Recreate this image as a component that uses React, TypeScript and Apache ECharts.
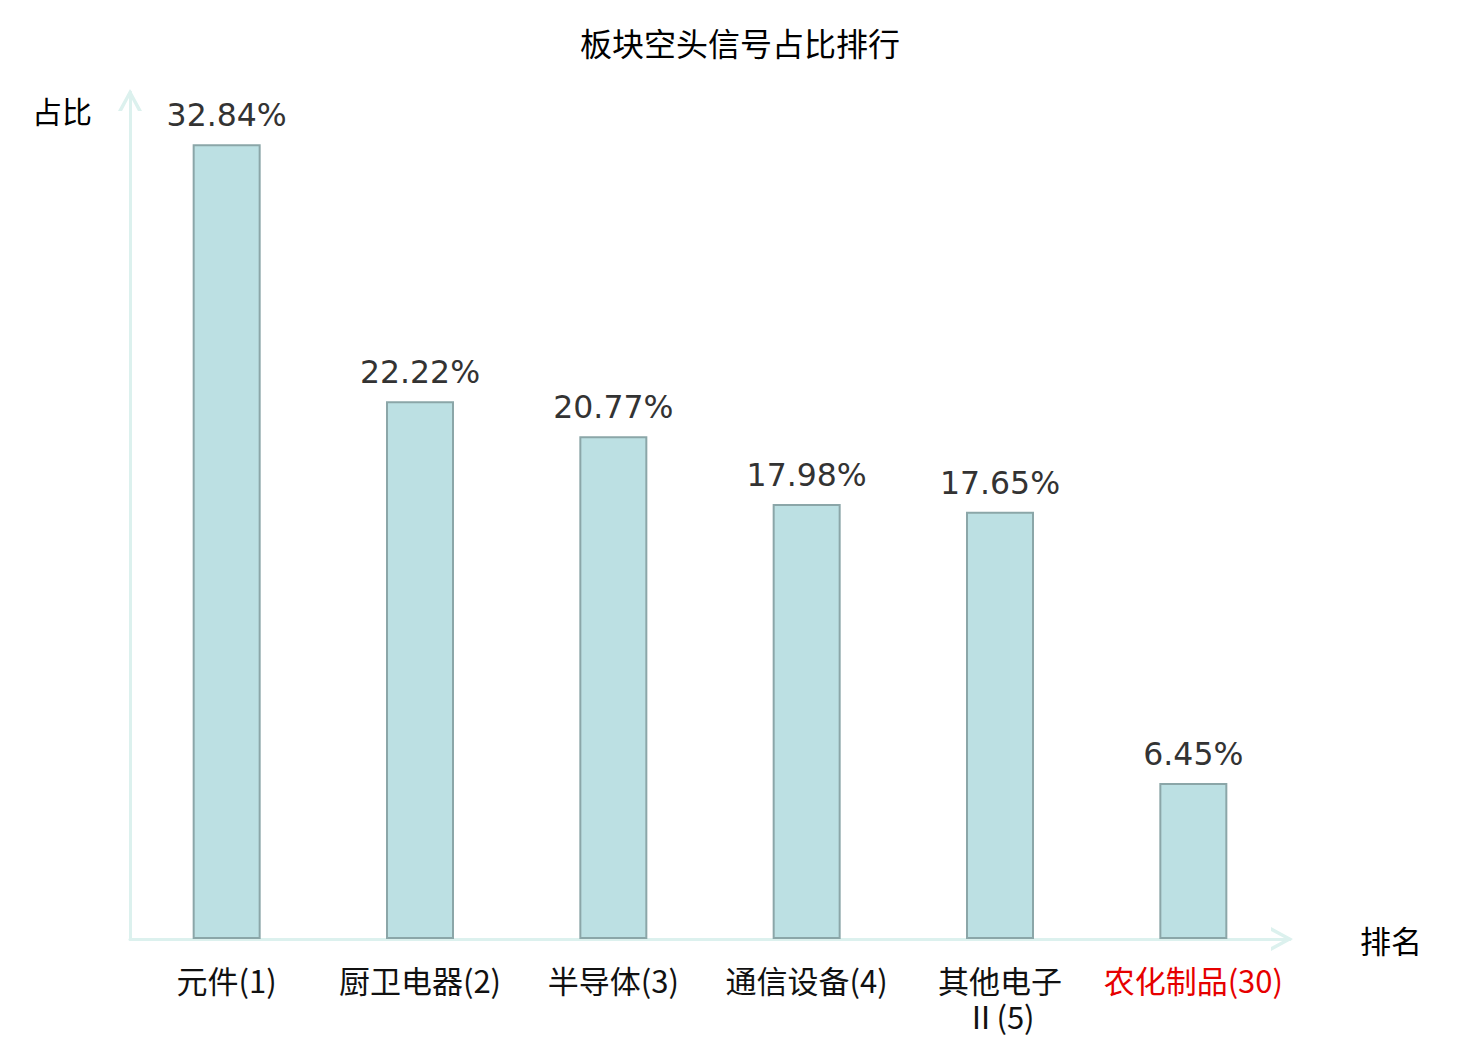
import React, { useEffect, useRef } from "react";
import * as echarts from "echarts";

const titleText = "板块空头信号占比排行";
const categories = ["元件(1)", "厨卫电器(2)", "半导体(3)", "通信设备(4)", "其他电子\nⅡ(5)", "农化制品(30)"];
const values = [32.84, 22.22, 20.77, 17.98, 17.65, 6.45];
const highlightIndex = 5;
const yAxisName = "占比";
const xAxisName = "排名";

const chevron = "path://M0,22 L12,0 L24,22 L20,22 L12,7 L4,22 Z";

export default function App() {
  const ref = useRef<HTMLDivElement>(null);
  useEffect(() => {
    if (!ref.current) return;
    const chart = echarts.init(ref.current, undefined, { renderer: "svg" });
    const axisLineColor = "#dcf1ee";
    chart.setOption({
      animation: false,
      backgroundColor: "#ffffff",
      title: {
        text: titleText,
        left: "center",
        top: 21,
        textStyle: {
          fontFamily: "Noto Sans CJK SC",
          fontSize: 32,
          fontWeight: "normal",
          color: "#000000",
        },
      },
      grid: { left: 130, right: 190, top: 92, bottom: 101, containLabel: false },
      xAxis: {
        type: "category",
        data: categories,
        name: xAxisName,
        nameLocation: "end",
        nameGap: 70,
        nameTextStyle: {
          fontFamily: "Noto Sans CJK SC",
          fontSize: 31,
          color: "#000000",
          verticalAlign: "middle",
          align: "left",
        },
        axisLine: {
          show: true,
          symbol: ["none", chevron],
          symbolSize: [24, 22],
          symbolOffset: [0, -8],
          lineStyle: { color: axisLineColor, width: 3 },
        },
        axisTick: { show: false },
        axisLabel: {
          interval: 0,
          margin: 22,
          fontFamily: "Noto Sans CJK SC",
          fontSize: 31,
          lineHeight: 36,
          color: (_v: any, i: number) => (i === highlightIndex ? "#e60000" : "#111111"),
        },
      },
      yAxis: {
        type: "value",
        min: 0,
        max: 35,
        name: yAxisName,
        nameLocation: "end",
        nameGap: -18,
        nameTextStyle: {
          fontFamily: "Noto Sans CJK SC",
          fontSize: 30,
          color: "#000000",
          align: "right",
          verticalAlign: "middle",
          padding: [0, 38, 0, 0],
        },
        axisLine: {
          show: true,
          symbol: ["none", chevron],
          symbolSize: [24, 22],
          symbolOffset: [0, -8],
          lineStyle: { color: axisLineColor, width: 3 },
        },
        axisTick: { show: false },
        axisLabel: { show: false },
        splitLine: { show: false },
      },
      series: [
        {
          type: "bar",
          data: values,
          barWidth: 68,
          itemStyle: {
            color: "#bce0e3",
            borderColor: "#8ba6a8",
            borderWidth: 2,
          },
          label: {
            show: true,
            position: "top",
            distance: 13,
            formatter: (p: any) => p.value.toFixed(2) + "%",
            fontFamily: "DejaVu Sans",
            fontSize: 31.5,
            color: "#333333",
          },
        },
      ],
    });
    return () => chart.dispose();
  }, []);
  return (
    <div
      ref={ref}
      style={{ position: "absolute", left: 0, top: 0, width: 1480, height: 1040 }}
    />
  );
}
